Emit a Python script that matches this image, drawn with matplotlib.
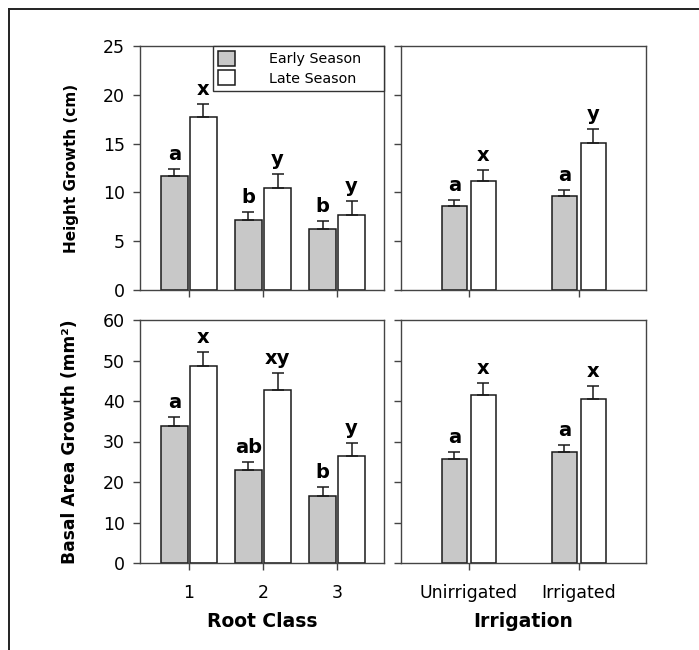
import numpy as np
import matplotlib
matplotlib.use("Agg")
import matplotlib.pyplot as plt
from matplotlib.lines import Line2D
from matplotlib.patches import Patch

plt.rcParams['font.family'] = ['DejaVu Sans']

# data
root_classes = ['1', '2', '3']
irrigation = ['Unirrigated', 'Irrigated']

height_root_early = [11.7, 7.2, 6.3]
height_root_early_se = [0.7, 0.75, 0.8]
height_root_late = [17.7, 10.4, 7.7]
height_root_late_se = [1.35, 1.5, 1.4]
height_root_early_lbl = ['a', 'b', 'b']
height_root_late_lbl = ['x', 'y', 'y']

height_irr_early = [8.6, 9.6]
height_irr_early_se = [0.6, 0.65]
height_irr_late = [11.2, 15.1]
height_irr_late_se = [1.1, 1.35]
height_irr_early_lbl = ['a', 'a']
height_irr_late_lbl = ['x', 'y']

basal_root_early = [33.9, 23.0, 16.6]
basal_root_early_se = [2.1, 2.0, 2.1]
basal_root_late = [48.6, 42.7, 26.3]
basal_root_late_se = [3.5, 4.1, 3.3]
basal_root_early_lbl = ['a', 'ab', 'b']
basal_root_late_lbl = ['x', 'xy', 'y']

basal_irr_early = [25.6, 27.3]
basal_irr_early_se = [1.8, 1.9]
basal_irr_late = [41.6, 40.6]
basal_irr_late_se = [2.9, 3.2]
basal_irr_early_lbl = ['a', 'a']
basal_irr_late_lbl = ['x', 'x']

EARLY_COLOR = '#c8c8c8'
EDGE = '#1a1a1a'


def draw_panel(ax, early, early_se, late, late_se, early_lbl, late_lbl,
               width, offset, xlim, ylim, yticks, show_ylabels):
    x = np.arange(1, len(early) + 1)
    for vals, se, lbls, pos, col in [(early, early_se, early_lbl, x - offset, EARLY_COLOR),
                                     (late, late_se, late_lbl, x + offset, 'white')]:
        ax.bar(pos, vals, width=width, color=col, edgecolor=EDGE, linewidth=1.1, zorder=2)
        ax.errorbar(pos, vals, yerr=[np.zeros(len(vals)), se], fmt='none',
                    ecolor=EDGE, elinewidth=1.1, capsize=4, capthick=1.1, zorder=3)
        for p, v, s, t in zip(pos, vals, se, lbls):
            ax.annotate(t, (p, v + s), xytext=(0, 6.5), textcoords='offset points',
                        ha='center', va='baseline', fontsize=14, fontweight='bold')
    ax.set_xlim(*xlim)
    ax.set_ylim(*ylim)
    ax.set_yticks(yticks)
    ax.set_xticks(x)
    if not show_ylabels:
        ax.set_yticklabels([])
    for sp in ax.spines.values():
        sp.set_color('#444444')
        sp.set_linewidth(1.0)
    ax.tick_params(axis='both', direction='out', length=5, width=1.0, color='#444444',
                   labelsize=12.5)
    ax.tick_params(axis='y', pad=6)
    ax.tick_params(axis='x', pad=10)


fig = plt.figure(figsize=(6.99, 6.5), dpi=100)

ax1 = fig.add_axes([140 / 699, 1 - 290 / 650, 244 / 699, 244 / 650])
ax2 = fig.add_axes([401 / 699, 1 - 290 / 650, 245 / 699, 244 / 650])
ax3 = fig.add_axes([140 / 699, 1 - 563 / 650, 244 / 699, 243 / 650])
ax4 = fig.add_axes([401 / 699, 1 - 563 / 650, 245 / 699, 243 / 650])

root_xlim = (0.338, 3.635)
irr_xlim = (0.382, 2.61)

draw_panel(ax1, height_root_early, height_root_early_se, height_root_late, height_root_late_se,
           height_root_early_lbl, height_root_late_lbl, 0.36, 0.196, root_xlim, (0, 25),
           np.arange(0, 26, 5), True)
draw_panel(ax2, height_irr_early, height_irr_early_se, height_irr_late, height_irr_late_se,
           height_irr_early_lbl, height_irr_late_lbl, 0.223, 0.132, irr_xlim, (0, 25),
           np.arange(0, 26, 5), False)
draw_panel(ax3, basal_root_early, basal_root_early_se, basal_root_late, basal_root_late_se,
           basal_root_early_lbl, basal_root_late_lbl, 0.36, 0.196, root_xlim, (0, 60),
           np.arange(0, 61, 10), True)
draw_panel(ax4, basal_irr_early, basal_irr_early_se, basal_irr_late, basal_irr_late_se,
           basal_irr_early_lbl, basal_irr_late_lbl, 0.223, 0.132, irr_xlim, (0, 60),
           np.arange(0, 61, 10), False)

ax1.set_xticklabels([])
ax2.set_xticklabels([])
ax3.set_xticklabels(root_classes)
ax4.set_xticklabels(irrigation)

ax1.set_ylabel('Height Growth (cm)', fontsize=11, fontweight='bold')
ax1.yaxis.set_label_coords(-0.25, 0.5)
ax3.set_ylabel('Basal Area Growth (mm\u00b2)', fontsize=12.3, fontweight='bold')
ax3.yaxis.set_label_coords(-0.25, 0.5)
ax3.set_xlabel('Root Class', fontsize=13.5, fontweight='bold')
ax3.xaxis.set_label_coords(0.5, -0.2)
ax4.set_xlabel('Irrigation', fontsize=13.5, fontweight='bold')
ax4.xaxis.set_label_coords(0.5, -0.2)

handles = [Patch(facecolor=EARLY_COLOR, edgecolor=EDGE, linewidth=1.1),
           Patch(facecolor='white', edgecolor=EDGE, linewidth=1.1)]
leg = ax1.legend(handles, ['Early Season', 'Late Season'], loc='upper left',
                 bbox_to_anchor=(0.299, 0, 0.701, 1.0), mode='expand', borderaxespad=0,
                 fontsize=10.3, fancybox=False, edgecolor='#333333', framealpha=1,
                 handlelength=1.2, handleheight=1.2, handletextpad=2.4,
                 labelspacing=0.3, borderpad=0.35)
leg.get_frame().set_linewidth(1.0)

# outer frame (top and left only)
fig.add_artist(Line2D([9 / 699, 1], [1 - 9 / 650, 1 - 9 / 650], color='#222222', lw=1.4))
fig.add_artist(Line2D([9 / 699, 9 / 699], [0, 1 - 9 / 650], color='#222222', lw=1.4))

fig.savefig('out.png', dpi=100)
